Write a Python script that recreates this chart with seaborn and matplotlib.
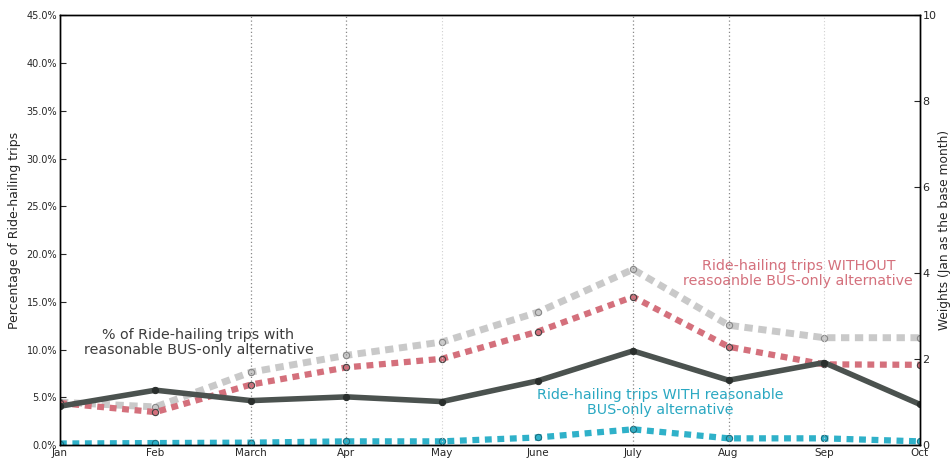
import matplotlib
matplotlib.use("Agg")
import matplotlib.pyplot as plt
import seaborn as sns
import pandas as pd
import numpy as np
from matplotlib.ticker import PercentFormatter

months = ["Jan", "Feb", "March", "Apr", "May", "June", "July", "Aug", "Sep", "Oct"]
pct_with_bus = [0.0408, 0.0576, 0.0467, 0.0506, 0.0457, 0.0673, 0.0987, 0.068, 0.0865, 0.0429]
w_all = [1.0, 0.89, 1.70, 2.09, 2.40, 3.09, 4.09, 2.79, 2.50, 2.50]
w_without = [0.98, 0.77, 1.41, 1.81, 2.01, 2.64, 3.45, 2.29, 1.88, 1.87]
w_with = [0.04, 0.05, 0.06, 0.09, 0.09, 0.18, 0.37, 0.16, 0.16, 0.09]
dark_vlines = ["March", "Apr", "July", "Aug"]
light_vlines = ["May", "Sep"]

sns.set_style("white")
plt.rcParams['font.family'] = ['DejaVu Sans']

x = np.arange(len(months))
df = pd.DataFrame({"x": x, "pct": pct_with_bus, "wall": w_all,
                   "wwo": w_without, "ww": w_with})

fig, ax = plt.subplots(figsize=(9.51, 4.59), dpi=100)
fig.subplots_adjust(left=0.063, right=0.967, top=0.967, bottom=0.03)
ax2 = ax.twinx()

for m in dark_vlines:
    ax.axvline(months.index(m), color="#888888", ls=(0, (1, 2)), lw=0.9, zorder=0)
for m in light_vlines:
    ax.axvline(months.index(m), color="#d0d0d0", ls=(0, (1, 2)), lw=0.8, zorder=0)

gray = "#c9c9c9"
red = "#d4707c"
blue = "#2fb1c9"
dark = "#4b524f"

sns.lineplot(data=df, x="x", y="wall", ax=ax2, color=gray, lw=5, ls=(0, (1.2, 0.8)),
             marker="o", markersize=4.5, markeredgecolor="#888888", markerfacecolor=gray, markeredgewidth=0.8)
sns.lineplot(data=df, x="x", y="wwo", ax=ax2, color=red, lw=4.5, ls=(0, (1.1, 0.9)),
             marker="o", markersize=4.5, markeredgecolor="#444444", markerfacecolor=red, markeredgewidth=0.8)
sns.lineplot(data=df, x="x", y="ww", ax=ax2, color=blue, lw=4.5, ls=(0, (1.1, 0.9)),
             marker="o", markersize=4.5, markeredgecolor="#1a6f80", markerfacecolor=blue, markeredgewidth=0.8)
ax2.set_ylim(0, 10)
ax2.set_yticks([0, 2, 4, 6, 8, 10])
ax2.set_ylabel("Weights (Jan as the base month)", fontsize=8.8, labelpad=1)
ax2.tick_params(axis="y", direction="in", length=4, labelsize=8, pad=2)

ax.set_zorder(ax2.get_zorder() + 1)
ax.patch.set_visible(False)
sns.lineplot(data=df, x="x", y="pct", ax=ax, color=dark, lw=4,
             marker="o", markersize=4.5, markeredgecolor="#2a2f2d", markerfacecolor="#2a2f2d")
ax.set_ylim(0, 0.45)
ax.set_yticks(np.arange(0, 0.46, 0.05))
ax.yaxis.set_major_formatter(PercentFormatter(1.0, decimals=1))
ax.set_ylabel("Percentage of Ride-hailing trips", fontsize=9)
ax.set_xlim(0, len(months) - 1)
ax.set_xticks(x)
ax.set_xticklabels(months)
ax.set_xlabel("")
ax.tick_params(axis="y", direction="in", length=4, labelsize=7, pad=2)
ax.tick_params(axis="x", direction="in", length=0, labelsize=7.5, pad=2)

for a in (ax, ax2):
    for s in a.spines.values():
        s.set_color("black")
        s.set_linewidth(1)

ax.text(1.45, 0.1075, "% of Ride-hailing trips with\nreasonable BUS-only alternative",
        ha="center", va="center", fontsize=10.3, color="#3c3c3c", linespacing=1.1)
ax2.text(7.73, 4.0, "Ride-hailing trips WITHOUT\nreasoanble BUS-only alternative",
         ha="center", va="center", fontsize=10.3, color=red, linespacing=1.1)
ax2.text(6.28, 1.0, "Ride-hailing trips WITH reasonable\nBUS-only alternative",
         ha="center", va="center", fontsize=10.3, color="#2aa8c2", linespacing=1.1)

fig.savefig("out.png", dpi=100)
